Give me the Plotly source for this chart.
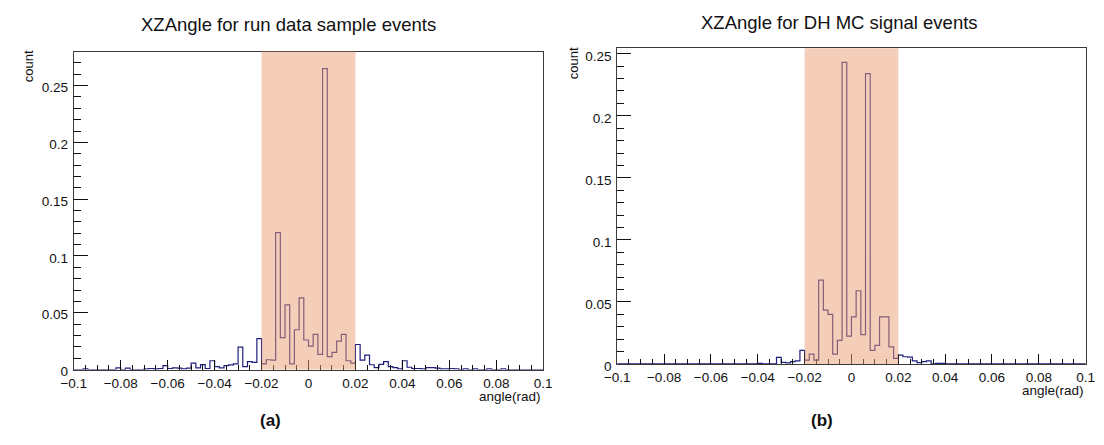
import numpy as np
import plotly.graph_objects as go

# ---------------- data ----------------
BIN_LO = -0.1
BIN_HI = 0.1
N_BINS = 100

titles = ["XZAngle for run data sample events", "XZAngle for DH MC signal events"]
panel_labels = ["(a)", "(b)"]
x_title = "angle(rad)"
y_title = "count"
cut_window = [-0.02, 0.02]

counts_data = [
    0, 0, 0.0005, 0, 0, 0, 0, 0, 0, 0.0015,
    0, 0.0013, 0, 0, 0, 0.0005, 0.0009, 0.0005, 0.0009, 0.0035,
    0.0009, 0.0015, 0.0013, 0.0005, 0.0013, 0.0057, 0.0015, 0.0043, 0.0009, 0.0077,
    0.0026, 0.0014, 0.0035, 0.0040, 0.0050, 0.0197, 0.0026, 0.0069, 0.0062, 0.0272,
    0.0049, 0.0086, 0.0083, 0.1206, 0.0280, 0.0570, 0.0050, 0.0350, 0.0630, 0.0260,
    0.0206, 0.0310, 0.0134, 0.2650, 0.0114, 0.0150, 0.0250, 0.0310, 0.0077, 0.0057,
    0.0220, 0.0083, 0.0127, 0.0042, 0.0017, 0.0045, 0.0069, 0.0026, 0.0017, 0.0005,
    0.0077, 0.0020, 0.0009, 0.0009, 0.0005, 0.0017, 0.0017, 0.0013, 0.0005, 0.0005,
    0.0009, 0.0005, 0, 0.0005, 0, 0.0005, 0, 0, 0.0005, 0,
    0, 0.0005, 0, 0, 0, 0, 0, 0, 0, 0,
]

counts_mc = [
    0, 0, 0, 0, 0, 0, 0, 0, 0, 0,
    0, 0, 0, 0, 0, 0, 0, 0, 0, 0,
    0, 0, 0, 0, 0, 0, 0, 0, 0, 0,
    0.0005, 0, 0, 0, 0.0053, 0.0013, 0.0008, 0.0018, 0.0024, 0.0110,
    0.0030, 0.0079, 0.0030, 0.0676, 0.0434, 0.0400, 0.0079, 0.0190, 0.2430, 0.0224,
    0.0380, 0.0590, 0.0237, 0.2340, 0.0110, 0.0150, 0.0380, 0.0380, 0.0137, 0.0045,
    0.0071, 0.0058, 0.0055, 0.0024, 0.0010, 0.0018, 0.0024, 0, 0.0005, 0.0005,
    0, 0, 0, 0, 0, 0, 0, 0, 0, 0,
    0, 0, 0, 0, 0, 0, 0, 0, 0, 0,
    0, 0, 0, 0, 0, 0, 0, 0, 0, 0,
]

y_max = [0.280, 0.2545]

# ---------------- figure ----------------
W, H = 1104, 445
FONT = "Liberation Sans, Arial, Helvetica, sans-serif"
LINE_COL = "#1e1e7c"
FRAME_COL = "#3a3a3a"
SHADE_COL = "rgba(236,158,118,0.5)"

# pixel geometry of the two frames (left, right, top, bottom)
frames = [(62, 541, 52.7, 378.0), (616.5, 1094.5, 49.3, 372.3)]

fig = go.Figure()
edges = np.linspace(BIN_LO, BIN_HI, N_BINS + 1)

for k, vals in enumerate([counts_data, counts_mc]):
    xa = "x" if k == 0 else "x2"
    ya = "y" if k == 0 else "y2"
    yv = list(vals) + [vals[-1]]
    fig.add_trace(go.Scatter(
        x=edges, y=yv, mode="lines", line_shape="hv",
        line=dict(color=LINE_COL, width=1.2),
        xaxis=xa, yaxis=ya, showlegend=False, hoverinfo="skip",
    ))

axis_common = dict(
    showline=True, linecolor=FRAME_COL, linewidth=1, mirror=True,
    showgrid=False, zeroline=False,
    tickfont=dict(family=FONT, size=13.5, color="#111"),
    ticks="inside", tickcolor="#111",
)

for k in range(2):
    l, r, t, b = frames[k]
    xdom = [l / W, r / W]
    ydom = [(H - b) / H, (H - t) / H]
    xkey = "xaxis" if k == 0 else "xaxis2"
    ykey = "yaxis" if k == 0 else "yaxis2"
    fig.update_layout(**{
        xkey: dict(axis_common, domain=xdom, range=[BIN_LO, BIN_HI],
                   anchor="y" if k == 0 else "y2",
                   tick0=-0.1, dtick=0.02, ticklen=10, tickwidth=1,
                   minor=dict(ticks="inside", dtick=0.005, tick0=-0.1, ticklen=5,
                              tickcolor="#111", showgrid=False),
                   ticklabelstandoff=1),
        ykey: dict(axis_common, domain=ydom, range=[0, y_max[k]],
                   anchor="x" if k == 0 else "x2",
                   tick0=0, dtick=0.05, ticklen=14, tickwidth=1,
                   minor=dict(ticks="inside", dtick=0.01, tick0=0, ticklen=7,
                              tickcolor="#111", showgrid=False),
                   ticklabelstandoff=2, ticklabelshift=2),
    })
    # shaded cut window
    fig.add_shape(type="rect", xref="x" if k == 0 else "x2",
                  yref=("y" if k == 0 else "y2") + " domain",
                  x0=cut_window[0], x1=cut_window[1], y0=0, y1=1,
                  fillcolor=SHADE_COL, line=dict(width=0), layer="above")

# text annotations
title_pos = [(281, 25), (843, 23)]
count_pos = [(16, 68), (572, 65)]
label_pos = [(263, 430), (825, 430)]
axis_title_y = [396, 390]
for k in range(2):
    fig.add_annotation(text=titles[k], x=title_pos[k][0] / W, y=1 - title_pos[k][1] / H,
                       xref="paper", yref="paper", showarrow=False,
                       xanchor="center", yanchor="middle",
                       font=dict(family=FONT, size=18.5, color="#111"))
    fig.add_annotation(text=y_title, x=count_pos[k][0] / W, y=1 - count_pos[k][1] / H,
                       xref="paper", yref="paper", showarrow=False, textangle=-90,
                       xanchor="center", yanchor="middle",
                       font=dict(family=FONT, size=13, color="#111"))
    fig.add_annotation(text=x_title, x=frames[k][1] / W, y=1 - axis_title_y[k] / H,
                       xref="paper", yref="paper", showarrow=False,
                       xanchor="right", yanchor="top",
                       font=dict(family=FONT, size=13.5, color="#111"))
    fig.add_annotation(text="<b>" + panel_labels[k] + "</b>", x=label_pos[k][0] / W,
                       y=1 - label_pos[k][1] / H,
                       xref="paper", yref="paper", showarrow=False,
                       xanchor="center", yanchor="middle",
                       font=dict(family=FONT, size=17, color="#111"))

fig.update_layout(
    width=W, height=H,
    margin=dict(l=0, r=0, t=0, b=0),
    paper_bgcolor="white", plot_bgcolor="white",
    font=dict(family=FONT),
)

fig.write_html("out.html")
